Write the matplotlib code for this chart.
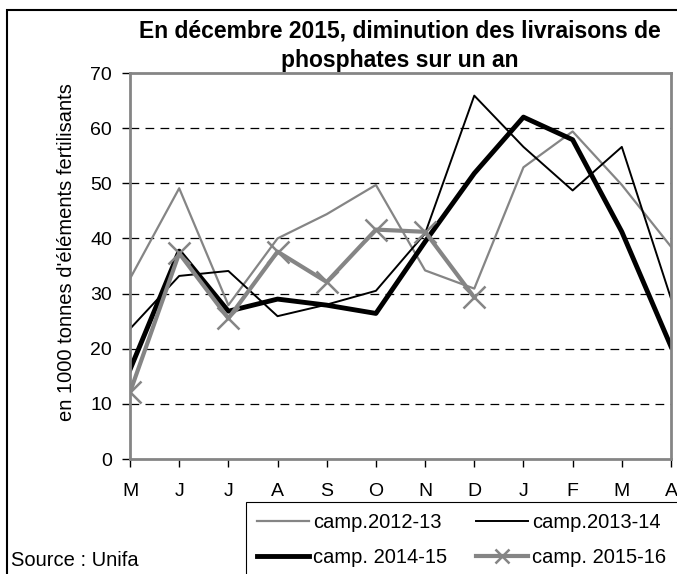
import matplotlib
matplotlib.use("Agg")
import matplotlib.pyplot as plt
from matplotlib.patches import Rectangle

plt.rcParams['font.family'] = ['Liberation Sans', 'DejaVu Sans']

# Data
months = ['M', 'J', 'J', 'A', 'S', 'O', 'N', 'D', 'J', 'F', 'M', 'A']
camp_2012_13 = [32.7, 49.1, 27.9, 40.0, 44.4, 49.7, 34.2, 30.9, 52.9, 59.4, 49.7, 38.5]
camp_2013_14 = [23.6, 33.2, 34.1, 25.9, 28.0, 30.5, 40.9, 65.9, 56.6, 48.7, 56.6, 29.1]
camp_2014_15 = [16.2, 37.7, 26.8, 29.0, 27.9, 26.4, 39.4, 51.8, 62.0, 57.9, 41.2, 20.4]
camp_2015_16 = [12.1, 37.3, 25.5, 37.6, 32.1, 41.6, 41.2, 29.3]
labels = ['camp.2012-13', 'camp.2013-14', 'camp. 2014-15', 'camp. 2015-16']

gray = '#858585'
x = list(range(len(months)))
W, H = 677, 574

fig = plt.figure(figsize=(W / 100, H / 100), dpi=100)
ax = fig.add_axes([130 / W, 1 - 459 / H, 541 / W, 386 / H])

l1, = ax.plot(x, camp_2012_13, color=gray, lw=1.6)
l2, = ax.plot(x, camp_2013_14, color='black', lw=1.4)
l3, = ax.plot(x, camp_2014_15, color='black', lw=3.5)
l4, = ax.plot(x[:len(camp_2015_16)], camp_2015_16, color=gray, lw=3.0,
              marker='x', markersize=16, markeredgewidth=1.8)

ax.set_xlim(0, len(months) - 1)
ax.set_ylim(0, 70)
ax.set_yticks(range(0, 71, 10))
ax.set_xticks(x)
ax.set_xticklabels(months)
for yv in range(10, 70, 10):
    ax.axhline(yv, color='black', lw=0.9, ls=(0, (7, 5)), zorder=0)

for s in ax.spines.values():
    s.set_color(gray)
    s.set_linewidth(2)
ax.tick_params(axis='both', direction='out', length=6, width=1, color='black',
               labelsize=14)
ax.tick_params(axis='y', pad=7)
ax.tick_params(axis='x', pad=11)

fig.text(67 / W, 1 - 252 / H, "en 1000 tonnes d'éléments fertilisants",
         rotation=90, ha='center', va='center', fontsize=14.5)

fig.text(400 / W, 1 - 31 / H, 'En décembre 2015, diminution des livraisons de',
         ha='center', va='center', fontsize=16.5, fontweight='bold')
fig.text(400 / W, 1 - 60 / H, 'phosphates sur un an',
         ha='center', va='center', fontsize=16.5, fontweight='bold')

fig.text(11 / W, 1 - 561 / H, 'Source : Unifa', ha='left', va='center', fontsize=14.5)

# legend filled column-wise: reorder so rows read 2012-13 / 2013-14, 2014-15 / 2015-16
handles = [l1, l3, l2, l4]
order_labels = [labels[0], labels[2], labels[1], labels[3]]
leg = fig.legend(handles, order_labels, ncol=2, loc='upper left',
                 bbox_to_anchor=(246 / W, 1 - 502 / H), borderaxespad=0,
                 fontsize=14.5, frameon=False, handlelength=2.6,
                 handletextpad=0.2, columnspacing=1.4, borderpad=0.55,
                 labelspacing=0.8)
leg.legend_handles[3].set_markersize(10)

# legend box runs off the right and bottom edges
fig.patches.append(Rectangle((246 / W, -0.05), 1.0, 1 - 502 / H + 0.05,
                             transform=fig.transFigure, fill=False,
                             edgecolor='black', lw=0.8))
# outer chart frame
fig.patches.append(Rectangle((7 / W, -0.05), 1.0, 1 - 10 / H + 0.05,
                             transform=fig.transFigure, fill=False,
                             edgecolor='black', lw=1.5))

fig.savefig('out.png', dpi=100)
